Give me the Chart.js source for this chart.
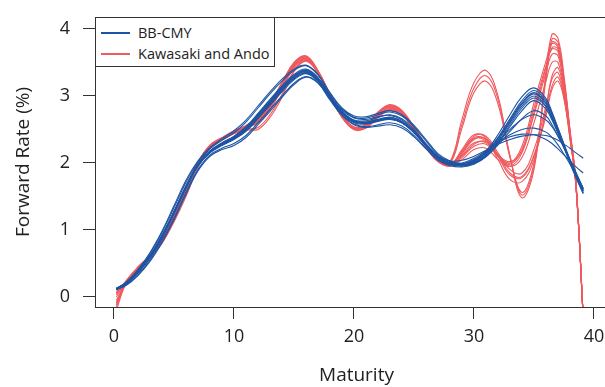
<!DOCTYPE html>
<html>
<head>
<meta charset="utf-8">
<script src="https://cdn.jsdelivr.net/npm/chart.js@4.4.1/dist/chart.umd.min.js"></script>
<style>
  html, body { margin: 0; padding: 0; background: #fff; overflow: hidden; }
  #caja { position: relative; width: 640px; height: 387px; }
  #leyenda {
    position: absolute; left: 95px; top: 17px; width: 178px; height: 48px;
    border: 1px solid #333; background: #fff;
    font-family: 'Open Sans', sans-serif; font-size: 14.5px; color: #222;
  }
  .fila { position: absolute; left: 0; height: 20px; line-height: 20px; }
  .linea { position: absolute; left: 5px; top: 9px; width: 29px; height: 2px; }
  .texto { position: absolute; left: 42px; top: 0; white-space: nowrap; }
</style>
</head>
<body>
<div id="caja">
  <canvas id="grafico"></canvas>
  <div id="leyenda">
    <div class="fila" style="top:5px"><span class="linea" style="background:#1d54a3"></span><span class="texto">BB-CMY</span></div>
    <div class="fila" style="top:26px"><span class="linea" style="background:#ef5a5e"></span><span class="texto">Kawasaki and Ando</span></div>
  </div>
</div>
<script>
// vencimientos (años)
const maturities = [0.2, 1, 2, 3, 4, 5, 6, 7, 8, 9, 10, 11, 12, 13, 14, 15, 16, 17, 18, 19,
  20, 21, 22, 23, 24, 25, 26, 27, 28, 29, 30, 31, 32, 33, 34, 35, 36, 36.5, 37, 37.5, 38, 38.5, 39.1];

const xTicks = [0, 10, 20, 30, 40];
const yTicks = [0, 1, 2, 3, 4];

// curvas BB-CMY
const bbCmy1 = [0.12, 0.2, 0.37, 0.6, 0.9, 1.26, 1.64, 1.97, 2.17, 2.28, 2.37, 2.5, 2.7, 2.9, 3.1, 3.28, 3.36, 3.24, 2.98, 2.75, 2.62, 2.6, 2.64, 2.68, 2.62, 2.47, 2.27, 2.08,
  1.99, 1.96, 2.0, 2.12, 2.33, 2.6, 2.85, 3.0, 2.85, 2.68, 2.47, 2.25, 2.03, 1.83, 1.6];
const bbCmy2 = [0.13, 0.22, 0.41, 0.66, 0.98, 1.36, 1.74, 2.03, 2.23, 2.36, 2.48, 2.64, 2.85, 3.06, 3.25, 3.4, 3.46, 3.32, 3.05, 2.82, 2.7, 2.69, 2.74, 2.78, 2.72, 2.56, 2.35, 2.14,
  2.03, 1.99, 2.03, 2.16, 2.38, 2.66, 2.93, 3.08, 2.93, 2.74, 2.52, 2.28, 2.05, 1.84, 1.58];
const bbCmy3 = [0.11, 0.17, 0.32, 0.53, 0.81, 1.15, 1.53, 1.88, 2.1, 2.2, 2.26, 2.38, 2.57, 2.77, 2.98, 3.17, 3.28, 3.19, 2.94, 2.71, 2.57, 2.53, 2.55, 2.57, 2.52, 2.39, 2.21, 2.04,
  1.96, 1.94, 1.98, 2.09, 2.28, 2.54, 2.78, 2.93, 2.8, 2.64, 2.44, 2.23, 2.02, 1.83, 1.62];
const bbCmy4 = [0.12, 0.21, 0.38, 0.62, 0.92, 1.28, 1.66, 1.98, 2.18, 2.3, 2.4, 2.54, 2.74, 2.95, 3.15, 3.32, 3.4, 3.27, 3.0, 2.77, 2.64, 2.63, 2.68, 2.72, 2.66, 2.5, 2.29, 2.1,
  2.0, 1.97, 2.02, 2.15, 2.37, 2.64, 2.9, 3.05, 2.9, 2.72, 2.5, 2.27, 2.04, 1.82, 1.56];
const bbCmy5 = [0.12, 0.19, 0.36, 0.58, 0.88, 1.24, 1.62, 1.95, 2.15, 2.26, 2.35, 2.47, 2.66, 2.86, 3.06, 3.24, 3.33, 3.22, 2.97, 2.74, 2.6, 2.58, 2.62, 2.65, 2.6, 2.45, 2.26, 2.07,
  1.98, 1.95, 1.99, 2.1, 2.3, 2.57, 2.82, 2.97, 2.84, 2.66, 2.46, 2.25, 2.04, 1.84, 1.62];
const bbCmy6 = [0.13, 0.2, 0.37, 0.61, 0.91, 1.27, 1.65, 1.97, 2.17, 2.29, 2.39, 2.53, 2.73, 2.93, 3.13, 3.3, 3.38, 3.26, 3.01, 2.79, 2.67, 2.65, 2.69, 2.71, 2.64, 2.48, 2.27, 2.08,
  1.99, 1.97, 2.01, 2.13, 2.35, 2.62, 2.88, 3.03, 2.88, 2.69, 2.47, 2.24, 2.0, 1.78, 1.54];
const bbCmy7 = [0.12, 0.2, 0.36, 0.59, 0.89, 1.25, 1.63, 1.96, 2.16, 2.27, 2.36, 2.49, 2.68, 2.88, 3.08, 3.26, 3.35, 3.23, 2.98, 2.76, 2.63, 2.61, 2.64, 2.66, 2.6, 2.45, 2.25, 2.07,
  1.98, 1.96, 2.0, 2.1, 2.27, 2.47, 2.66, 2.78, 2.7, 2.57, 2.4, 2.22, 2.02, 1.83, 1.6];
const bbCmy8 = [0.12, 0.2, 0.37, 0.6, 0.9, 1.26, 1.64, 1.97, 2.17, 2.28, 2.38, 2.51, 2.71, 2.91, 3.11, 3.29, 3.37, 3.25, 2.99, 2.76, 2.63, 2.61, 2.65, 2.68, 2.61, 2.46, 2.26, 2.08,
  1.99, 1.97, 2.03, 2.15, 2.32, 2.5, 2.65, 2.72, 2.64, 2.54, 2.4, 2.23, 2.05, 1.86, 1.62];
const bbCmy9 = [0.12, 0.21, 0.38, 0.61, 0.91, 1.27, 1.65, 1.98, 2.18, 2.29, 2.38, 2.51, 2.71, 2.92, 3.12, 3.3, 3.39, 3.27, 3.0, 2.76, 2.62, 2.6, 2.63, 2.66, 2.6, 2.46, 2.27, 2.1,
  2.03, 2.04, 2.1, 2.19, 2.28, 2.35, 2.4, 2.42, 2.41, 2.38, 2.34, 2.28, 2.22, 2.15, 2.07];
const bbCmy10 = [0.12, 0.2, 0.36, 0.59, 0.89, 1.25, 1.63, 1.96, 2.16, 2.27, 2.36, 2.48, 2.68, 2.88, 3.08, 3.26, 3.34, 3.22, 2.97, 2.74, 2.61, 2.59, 2.63, 2.66, 2.6, 2.46, 2.26, 2.08,
  2.01, 2.0, 2.07, 2.18, 2.3, 2.39, 2.43, 2.42, 2.35, 2.29, 2.21, 2.12, 2.03, 1.94, 1.85];
const bbCmy11 = [0.11, 0.18, 0.33, 0.55, 0.84, 1.18, 1.56, 1.9, 2.12, 2.22, 2.29, 2.41, 2.6, 2.8, 3.0, 3.19, 3.29, 3.2, 2.95, 2.72, 2.58, 2.54, 2.57, 2.6, 2.55, 2.41, 2.22, 2.05,
  1.98, 1.98, 2.05, 2.17, 2.3, 2.42, 2.5, 2.52, 2.46, 2.38, 2.27, 2.13, 1.98, 1.8, 1.58];
const bbCmy12 = [0.13, 0.21, 0.4, 0.65, 0.96, 1.33, 1.71, 2.01, 2.21, 2.34, 2.45, 2.61, 2.82, 3.03, 3.22, 3.38, 3.45, 3.31, 3.04, 2.81, 2.68, 2.67, 2.72, 2.76, 2.7, 2.54, 2.33, 2.12,
  2.02, 1.98, 2.04, 2.18, 2.42, 2.72, 2.99, 3.12, 2.96, 2.76, 2.52, 2.27, 2.02, 1.8, 1.55];

// curvas Kawasaki and Ando
const kawasakiAndo1 = [-0.15, 0.22, 0.44, 0.6, 0.83, 1.18, 1.58, 1.99, 2.25, 2.36, 2.46, 2.53, 2.63, 2.85, 3.15, 3.47, 3.58, 3.37, 3.02, 2.7, 2.52, 2.55, 2.73, 2.84, 2.76, 2.52, 2.25, 2.03,
  2.02, 2.65, 3.2, 3.38, 3.0, 2.1, 1.48, 1.9, 3.35, 3.92, 3.86, 3.3, 2.5, 1.72, -0.3];
const kawasakiAndo2 = [-0.05, 0.2, 0.42, 0.59, 0.82, 1.16, 1.56, 1.98, 2.24, 2.35, 2.45, 2.52, 2.6, 2.8, 3.1, 3.42, 3.54, 3.35, 3.0, 2.68, 2.5, 2.53, 2.7, 2.8, 2.73, 2.5, 2.24, 2.02,
  2.0, 2.58, 3.12, 3.3, 2.95, 2.1, 1.52, 1.95, 3.3, 3.85, 3.8, 3.25, 2.48, 1.7, -0.3];
const kawasakiAndo3 = [0.05, 0.24, 0.45, 0.62, 0.86, 1.21, 1.61, 2.01, 2.27, 2.38, 2.48, 2.56, 2.68, 2.9, 3.2, 3.5, 3.6, 3.38, 3.03, 2.71, 2.54, 2.57, 2.75, 2.86, 2.78, 2.54, 2.27, 2.05,
  1.99, 2.52, 3.05, 3.22, 2.88, 2.08, 1.56, 2.0, 3.25, 3.8, 3.75, 3.22, 2.46, 1.7, -0.3];
const kawasakiAndo4 = [0.1, 0.18, 0.4, 0.58, 0.8, 1.12, 1.5, 1.93, 2.22, 2.34, 2.44, 2.49, 2.5, 2.68, 2.98, 3.36, 3.52, 3.34, 3.0, 2.69, 2.51, 2.52, 2.68, 2.78, 2.72, 2.5, 2.25, 2.04,
  1.97, 2.2, 2.42, 2.38, 2.12, 2.0, 2.25, 2.9, 3.52, 3.78, 3.72, 3.2, 2.45, 1.68, -0.3];
const kawasakiAndo5 = [-0.2, 0.2, 0.43, 0.61, 0.85, 1.2, 1.6, 2.0, 2.26, 2.37, 2.47, 2.55, 2.66, 2.88, 3.18, 3.48, 3.58, 3.36, 3.01, 2.7, 2.53, 2.56, 2.74, 2.85, 2.77, 2.53, 2.26, 2.03,
  1.96, 2.15, 2.36, 2.33, 2.1, 1.98, 2.2, 2.82, 3.45, 3.7, 3.66, 3.15, 2.43, 1.68, -0.3];
const kawasakiAndo6 = [0.0, 0.21, 0.42, 0.6, 0.84, 1.19, 1.59, 2.0, 2.25, 2.36, 2.46, 2.54, 2.65, 2.87, 3.17, 3.46, 3.55, 3.33, 2.99, 2.69, 2.52, 2.56, 2.74, 2.83, 2.74, 2.5, 2.24, 2.03,
  1.98, 2.12, 2.3, 2.3, 2.12, 2.02, 2.18, 2.72, 3.35, 3.62, 3.6, 3.12, 2.42, 1.67, -0.3];
const kawasakiAndo7 = [-0.1, 0.23, 0.43, 0.59, 0.81, 1.15, 1.55, 1.97, 2.23, 2.34, 2.44, 2.5, 2.53, 2.72, 3.02, 3.38, 3.53, 3.35, 3.01, 2.69, 2.5, 2.52, 2.69, 2.79, 2.72, 2.49, 2.23, 2.02,
  1.95, 2.08, 2.25, 2.28, 2.1, 1.95, 2.08, 2.6, 3.22, 3.5, 3.5, 3.08, 2.4, 1.66, -0.3];
const kawasakiAndo8 = [0.08, 0.19, 0.41, 0.6, 0.84, 1.19, 1.6, 2.01, 2.26, 2.37, 2.47, 2.55, 2.67, 2.89, 3.19, 3.49, 3.59, 3.37, 3.02, 2.7, 2.53, 2.57, 2.76, 2.87, 2.78, 2.53, 2.26, 2.04,
  1.97, 2.18, 2.4, 2.4, 2.15, 1.9, 1.85, 2.2, 2.85, 3.25, 3.35, 3.0, 2.38, 1.66, -0.3];
const kawasakiAndo9 = [-0.12, 0.21, 0.43, 0.6, 0.83, 1.17, 1.57, 1.99, 2.25, 2.36, 2.46, 2.53, 2.62, 2.83, 3.13, 3.44, 3.56, 3.36, 3.01, 2.7, 2.52, 2.54, 2.71, 2.81, 2.74, 2.51, 2.25, 2.03,
  1.96, 2.1, 2.28, 2.32, 2.12, 1.85, 1.8, 2.12, 2.75, 3.15, 3.28, 2.98, 2.37, 1.65, -0.3];
const kawasakiAndo10 = [0.03, 0.22, 0.44, 0.61, 0.85, 1.2, 1.6, 2.0, 2.26, 2.37, 2.47, 2.54, 2.64, 2.86, 3.16, 3.45, 3.56, 3.35, 3.0, 2.69, 2.51, 2.55, 2.73, 2.83, 2.75, 2.51, 2.25, 2.04,
  1.98, 2.14, 2.35, 2.36, 2.1, 1.82, 1.78, 2.1, 2.7, 3.1, 3.22, 2.95, 2.36, 1.65, -0.3];
const kawasakiAndo11 = [-0.08, 0.2, 0.42, 0.59, 0.82, 1.16, 1.56, 1.98, 2.24, 2.35, 2.45, 2.52, 2.61, 2.82, 3.12, 3.43, 3.55, 3.35, 3.0, 2.68, 2.51, 2.54, 2.71, 2.81, 2.74, 2.51, 2.24, 2.02,
  1.96, 2.05, 2.2, 2.22, 2.05, 1.95, 2.15, 2.75, 3.42, 3.72, 3.7, 3.18, 2.44, 1.68, -0.3];
const kawasakiAndo12 = [0.06, 0.23, 0.44, 0.61, 0.84, 1.19, 1.59, 2.0, 2.26, 2.37, 2.47, 2.55, 2.66, 2.88, 3.18, 3.48, 3.58, 3.37, 3.02, 2.7, 2.53, 2.56, 2.74, 2.84, 2.76, 2.52, 2.26, 2.04,
  1.97, 2.16, 2.38, 2.35, 2.05, 1.75, 1.72, 2.05, 2.8, 3.3, 3.42, 3.05, 2.4, 1.66, -0.3];

const seriesBB = [bbCmy1, bbCmy2, bbCmy3, bbCmy4, bbCmy5, bbCmy6, bbCmy7, bbCmy8, bbCmy9, bbCmy10, bbCmy11, bbCmy12];
const seriesKA = [kawasakiAndo1, kawasakiAndo2, kawasakiAndo3, kawasakiAndo4, kawasakiAndo5, kawasakiAndo6,
  kawasakiAndo7, kawasakiAndo8, kawasakiAndo9, kawasakiAndo10, kawasakiAndo11, kawasakiAndo12];

const azul = '#1d54a3';
const rojo = '#ef5a5e';
const ejeColor = '#333333';

function armarSerie(valores, color, nombre) {
    return {
        label: nombre,
        data: maturities.map((m, i) => ({ x: m, y: valores[i] })),
        borderColor: color,
        backgroundColor: color,
        borderWidth: 1.1,
        pointRadius: 0,
        showLine: true,
        tension: 0.4
    };
}

// el primer dataset se dibuja encima, por eso van primero las azules
const datasets = [
    ...seriesBB.map((s, i) => armarSerie(s, azul, 'BB-CMY ' + (i + 1))),
    ...seriesKA.map((s, i) => armarSerie(s, rojo, 'Kawasaki and Ando ' + (i + 1)))
];

// marco completo del area del grafico (estilo R)
const marco = {
    id: 'marco',
    afterDraw(chart) {
        const { ctx, chartArea: a } = chart;
        ctx.save();
        ctx.strokeStyle = ejeColor;
        ctx.lineWidth = 1;
        ctx.strokeRect(Math.round(a.left) + 0.5, Math.round(a.top) + 0.5, a.right - a.left, a.bottom - a.top);
        ctx.restore();
    }
};

Chart.defaults.font.family = "'Open Sans', sans-serif";
Chart.defaults.color = '#222';

new Chart(document.getElementById('grafico'), {
    type: 'scatter',
    data: { datasets },
    plugins: [marco],
    options: {
        responsive: true,
        maintainAspectRatio: false,
        animation: false,
        events: [],
        layout: { padding: { left: 0, top: 17, right: 22, bottom: 0 } },
        plugins: { legend: { display: false }, tooltip: { enabled: false } },
        scales: {
            x: {
                type: 'linear',
                min: -1.58,
                max: 42,
                afterFit(scale) {
                    scale.height = 80;
                    scale.paddingLeft = 0;
                    scale.paddingRight = 0;
                },
                afterBuildTicks(scale) { scale.ticks = xTicks.map(v => ({ value: v })); },
                border: { display: false },
                grid: { drawOnChartArea: false, drawTicks: true, tickLength: 12, color: ejeColor, tickWidth: 1 },
                ticks: { padding: 7, font: { size: 18 }, color: '#222', maxRotation: 0 },
                title: { display: true, text: 'Maturity', font: { size: 19, lineHeight: 1.2 }, color: '#222', padding: { top: 0, bottom: 0 } }
            },
            y: {
                type: 'linear',
                min: -0.15,
                max: 4.178,
                afterFit(scale) {
                    scale.width = 95;
                    scale.paddingTop = 0;
                    scale.paddingBottom = 0;
                },
                afterBuildTicks(scale) { scale.ticks = yTicks.map(v => ({ value: v })); },
                border: { display: false },
                grid: { drawOnChartArea: false, drawTicks: true, tickLength: 12, color: ejeColor, tickWidth: 1 },
                ticks: { padding: 13, font: { size: 18 }, color: '#222' },
                title: { display: true, text: 'Forward Rate (%)', font: { size: 19, lineHeight: 1.2 }, color: '#222', padding: { top: 12, bottom: 0 } }
            }
        }
    }
});
</script>
</body>
</html>
